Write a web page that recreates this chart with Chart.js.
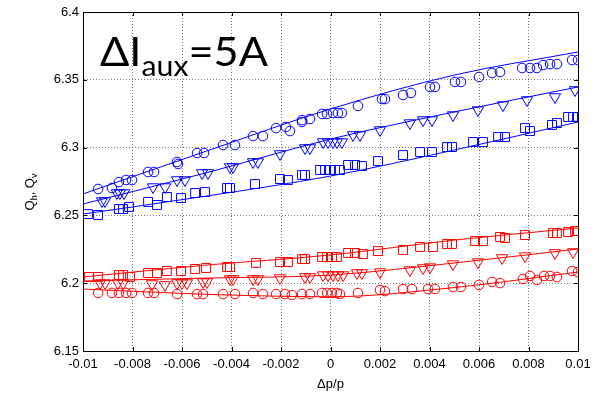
<!DOCTYPE html>
<html>
<head>
<meta charset="utf-8">
<title>Q vs dp/p</title>
<script src="https://cdn.jsdelivr.net/npm/chart.js"></script>
<style>
  html, body { margin: 0; padding: 0; background: #fff; }
  canvas { display: block; }
</style>
</head>
<body>
<canvas id="chart" width="600" height="394"></canvas>
<script>
// tick values / labels
const xTicks = [-0.01, -0.008, -0.006, -0.004, -0.002, 0, 0.002, 0.004, 0.006, 0.008, 0.01];
const xTickLabels = ['-0.01', '-0.008', '-0.006', '-0.004', '-0.002', '0', '0.002', '0.004', '0.006', '0.008', '0.01'];
const yTicks = [6.15, 6.2, 6.25, 6.3, 6.35, 6.4];
const yTickLabels = ['6.15', '6.2', '6.25', '6.3', '6.35', '6.4'];

// blue circles
const blueCircX = [-0.00939, -0.00883, -0.00855, -0.00826, -0.00802, -0.00737, -0.00713, -0.00620, -0.00616, -0.00539, -0.00511, -0.00434, -0.00386, -0.00313, -0.00273, -0.00220, -0.00180, -0.00164, -0.00115, -0.00083, -0.00115, -0.00034, -0.00014, 0.00010, 0.00030, 0.00046, 0.00111, 0.00208, 0.00220, 0.00293, 0.00325, 0.00402, 0.00422, 0.00503, 0.00527, 0.00600, 0.00653, 0.00685, 0.00774, 0.00806, 0.00834, 0.00859, 0.00887, 0.00915, 0.00976, 0.01000];
const blueCircY = [6.2695, 6.2702, 6.2746, 6.2761, 6.2761, 6.2820, 6.2820, 6.2894, 6.2879, 6.2960, 6.2960, 6.3019, 6.3019, 6.3085, 6.3085, 6.3144, 6.3152, 6.3122, 6.3203, 6.3211, 6.3189, 6.3248, 6.3248, 6.3255, 6.3255, 6.3255, 6.3307, 6.3358, 6.3358, 6.3388, 6.3403, 6.3447, 6.3447, 6.3484, 6.3484, 6.3521, 6.3550, 6.3557, 6.3587, 6.3587, 6.3587, 6.3609, 6.3616, 6.3616, 6.3646, 6.3646];

// blue triangles
const blueTriX = [-0.00923, -0.00911, -0.00863, -0.00851, -0.00834, -0.00717, -0.00668, -0.00620, -0.00588, -0.00519, -0.00495, -0.00406, -0.00394, -0.00313, -0.00293, -0.00204, -0.00103, -0.00083, -0.00030, -0.00010, 0.00010, 0.00026, 0.00046, 0.00091, 0.00119, 0.00200, 0.00321, 0.00374, 0.00410, 0.00495, 0.00596, 0.00697, 0.00794, 0.00907, 0.00988];
const blueTriY = [6.2606, 6.2606, 6.2665, 6.2665, 6.2665, 6.2709, 6.2709, 6.2761, 6.2761, 6.2813, 6.2813, 6.2857, 6.2857, 6.2894, 6.2894, 6.2953, 6.2997, 6.2997, 6.3041, 6.3041, 6.3041, 6.3041, 6.3041, 6.3093, 6.3093, 6.3130, 6.3181, 6.3203, 6.3203, 6.3240, 6.3277, 6.3314, 6.3351, 6.3373, 6.3425];

// blue squares
const blueSqX = [-0.00980, -0.00939, -0.00855, -0.00838, -0.00814, -0.00737, -0.00701, -0.00661, -0.00604, -0.00547, -0.00507, -0.00418, -0.00406, -0.00305, -0.00204, -0.00172, -0.00115, -0.00103, -0.00042, -0.00022, -0.00002, 0.00018, 0.00038, 0.00071, 0.00099, 0.00127, 0.00192, 0.00293, 0.00362, 0.00410, 0.00471, 0.00491, 0.00576, 0.00616, 0.00677, 0.00705, 0.00786, 0.00806, 0.00895, 0.00915, 0.00960, 0.00980, 0.01000];
const blueSqY = [6.2510, 6.2503, 6.2547, 6.2547, 6.2562, 6.2599, 6.2577, 6.2636, 6.2628, 6.2665, 6.2672, 6.2702, 6.2702, 6.2731, 6.2768, 6.2761, 6.2798, 6.2798, 6.2835, 6.2835, 6.2835, 6.2835, 6.2835, 6.2872, 6.2872, 6.2864, 6.2901, 6.2945, 6.2967, 6.2967, 6.3004, 6.3004, 6.3041, 6.3041, 6.3078, 6.3078, 6.3144, 6.3122, 6.3167, 6.3181, 6.3226, 6.3226, 6.3226];

// red squares
const redSqX = [-0.00976, -0.00939, -0.00855, -0.00838, -0.00810, -0.00737, -0.00701, -0.00661, -0.00604, -0.00547, -0.00503, -0.00418, -0.00406, -0.00301, -0.00204, -0.00172, -0.00115, -0.00103, -0.00034, -0.00014, 0.00006, 0.00026, 0.00071, 0.00099, 0.00131, 0.00192, 0.00293, 0.00362, 0.00414, 0.00471, 0.00491, 0.00584, 0.00616, 0.00685, 0.00705, 0.00786, 0.00899, 0.00915, 0.00960, 0.00988, 0.01000];
const redSqY = [6.2046, 6.2046, 6.2060, 6.2060, 6.2046, 6.2075, 6.2075, 6.2090, 6.2090, 6.2105, 6.2112, 6.2119, 6.2119, 6.2149, 6.2156, 6.2156, 6.2178, 6.2178, 6.2193, 6.2193, 6.2193, 6.2193, 6.2223, 6.2223, 6.2215, 6.2237, 6.2245, 6.2267, 6.2267, 6.2289, 6.2289, 6.2311, 6.2311, 6.2341, 6.2333, 6.2355, 6.2370, 6.2370, 6.2377, 6.2385, 6.2385];

// red triangles
const redTriX = [-0.00931, -0.00911, -0.00859, -0.00838, -0.00721, -0.00669, -0.00620, -0.00600, -0.00580, -0.00515, -0.00499, -0.00406, -0.00394, -0.00313, -0.00293, -0.00204, -0.00103, -0.00083, -0.00030, -0.00010, 0.00010, 0.00030, 0.00051, 0.00107, 0.00127, 0.00200, 0.00321, 0.00374, 0.00402, 0.00495, 0.00596, 0.00693, 0.00786, 0.00907, 0.00980];
const redTriY = [6.2001, 6.2001, 6.2001, 6.2001, 6.1994, 6.1987, 6.2001, 6.2001, 6.2001, 6.2009, 6.2009, 6.2031, 6.2031, 6.2031, 6.2031, 6.2038, 6.2046, 6.2046, 6.2060, 6.2060, 6.2060, 6.2060, 6.2060, 6.2075, 6.2075, 6.2082, 6.2097, 6.2112, 6.2119, 6.2141, 6.2156, 6.2186, 6.2200, 6.2223, 6.2230];

// red circles
const redCircX = [-0.00939, -0.00883, -0.00855, -0.00826, -0.00802, -0.00737, -0.00713, -0.00620, -0.00539, -0.00515, -0.00434, -0.00386, -0.00313, -0.00273, -0.00220, -0.00184, -0.00156, -0.00115, -0.00083, -0.00034, -0.00014, 0.00006, 0.00026, 0.00038, 0.00111, 0.00200, 0.00220, 0.00293, 0.00329, 0.00394, 0.00422, 0.00495, 0.00527, 0.00600, 0.00653, 0.00685, 0.00778, 0.00806, 0.00834, 0.00863, 0.00887, 0.00915, 0.00976, 0.01000];
const redCircY = [6.1928, 6.1928, 6.1928, 6.1928, 6.1928, 6.1928, 6.1928, 6.1920, 6.1920, 6.1920, 6.1920, 6.1920, 6.1928, 6.1920, 6.1920, 6.1920, 6.1913, 6.1920, 6.1920, 6.1928, 6.1928, 6.1928, 6.1928, 6.1920, 6.1928, 6.1950, 6.1942, 6.1957, 6.1957, 6.1957, 6.1957, 6.1972, 6.1972, 6.1987, 6.2009, 6.2001, 6.2031, 6.2053, 6.2024, 6.2053, 6.2053, 6.2046, 6.2090, 6.2082];

// fitted curves, read at a few x positions
const fitX = [-0.01, -0.005, 0, 0.005, 0.01];
const blueCircFit = [6.2658, 6.2975, 6.3285, 6.3535, 6.3705];
const blueTriFit = [6.2584, 6.2815, 6.3063, 6.3263, 6.3447];
const blueSqFit = [6.2510, 6.2643, 6.2790, 6.2982, 6.3189];
const redSqFit = [6.2046, 6.2134, 6.2208, 6.2318, 6.2407];
const redTriFit = [6.2016, 6.2038, 6.2060, 6.2149, 6.2252];
const redCircFit = [6.1957, 6.1918, 6.1900, 6.1968, 6.2082];

const BLUE = '#0000ff';
const RED = '#ff0000';

const pts = (xs, ys) => xs.map((x, i) => ({ x: x, y: ys[i] }));

function markers(xs, ys, color, style, radius, rotation) {
  return {
    data: pts(xs, ys),
    showLine: false,
    pointStyle: style,
    pointRadius: radius,
    pointRotation: rotation || 0,
    pointBorderColor: color,
    pointBackgroundColor: 'rgba(0,0,0,0)',
    pointBorderWidth: 1,
    pointHoverRadius: radius,
  };
}

function fitLine(ys, color) {
  return {
    data: pts(fitX, ys),
    showLine: true,
    borderColor: color,
    borderWidth: 1,
    pointRadius: 0,
    pointHoverRadius: 0,
    cubicInterpolationMode: 'monotone',
    fill: false,
  };
}

// frame, inward ticks, big annotation and y title
const extrasPlugin = {
  id: 'extras',
  afterDraw(chart) {
    const { ctx, chartArea: a, scales } = chart;
    ctx.save();
    ctx.strokeStyle = '#000';
    ctx.lineWidth = 1;
    ctx.beginPath();
    ctx.moveTo(Math.round(a.left) + 0.5, Math.round(a.top) + 0.5);
    ctx.lineTo(Math.round(a.right) + 0.5, Math.round(a.top) + 0.5);
    ctx.lineTo(Math.round(a.right) + 0.5, Math.round(a.bottom) + 0.5);
    ctx.stroke();

    ctx.beginPath();
    xTicks.forEach(v => {
      const px = Math.round(scales.x.getPixelForValue(v)) + 0.5;
      ctx.moveTo(px, a.bottom); ctx.lineTo(px, a.bottom - 4);
      ctx.moveTo(px, a.top); ctx.lineTo(px, a.top + 4);
    });
    yTicks.forEach(v => {
      const py = Math.round(scales.y.getPixelForValue(v)) + 0.5;
      ctx.moveTo(a.left, py); ctx.lineTo(a.left + 4, py);
      ctx.moveTo(a.right, py); ctx.lineTo(a.right - 4, py);
    });
    ctx.stroke();

    // ΔI_aux=5A, stretched a little to the width of the original
    ctx.fillStyle = '#000';
    ctx.textBaseline = 'alphabetic';
    const ann = [['\u0394I', 40, 0], ['aux', 28, 10], ['=5A', 40, 0]];
    let annW = 0;
    ann.forEach(p => { ctx.font = p[1] + 'px Lato'; annW += ctx.measureText(p[0]).width; });
    ctx.save();
    ctx.translate(100, 66);
    ctx.scale(168 / annW, 1);
    let x = 0;
    ann.forEach(p => {
      ctx.font = p[1] + 'px Lato';
      ctx.fillText(p[0], x, p[2]);
      x += ctx.measureText(p[0]).width;
    });
    ctx.restore();

    // y axis title Q_h, Q_v
    ctx.translate(34, 192);
    ctx.rotate(-Math.PI / 2);
    const parts = [['Q', 13, 0], ['h', 9, 3], [', Q', 13, 0], ['v', 9, 3]];
    let w = 0;
    parts.forEach(p => { ctx.font = p[1] + 'px "Liberation Sans", Arial'; w += ctx.measureText(p[0]).width; });
    let tx = -w / 2;
    parts.forEach(p => {
      ctx.font = p[1] + 'px "Liberation Sans", Arial';
      ctx.fillText(p[0], tx, p[2]);
      tx += ctx.measureText(p[0]).width;
    });
    ctx.restore();
  }
};

const tickFont = { family: '"Liberation Sans", Arial, sans-serif', size: 13 };

new Chart(document.getElementById('chart').getContext('2d'), {
  type: 'scatter',
  data: {
    datasets: [
      markers(blueCircX, blueCircY, BLUE, 'circle', 4.8),
      markers(blueTriX, blueTriY, BLUE, 'triangle', 6.5, 180),
      markers(blueSqX, blueSqY, BLUE, 'rect', 6.3),
      markers(redSqX, redSqY, RED, 'rect', 6.3),
      markers(redTriX, redTriY, RED, 'triangle', 6.5, 180),
      markers(redCircX, redCircY, RED, 'circle', 4.8),
      fitLine(blueCircFit, BLUE),
      fitLine(blueTriFit, BLUE),
      fitLine(blueSqFit, BLUE),
      fitLine(redSqFit, RED),
      fitLine(redTriFit, RED),
      fitLine(redCircFit, RED),
    ],
  },
  options: {
    responsive: false,
    animation: false,
    devicePixelRatio: 1,
    layout: { padding: { top: 12, right: 22, left: 0, bottom: 0 } },
    plugins: {
      legend: { display: false },
      tooltip: { enabled: false },
    },
    scales: {
      x: {
        type: 'linear',
        min: -0.01,
        max: 0.01,
        afterBuildTicks: scale => { scale.ticks = xTicks.map(v => ({ value: v })); },
        afterFit: scale => { scale.height = 43; },
        ticks: {
          color: '#000',
          font: tickFont,
          padding: 6,
          maxRotation: 0,
          autoSkip: false,
          callback: (v, i) => xTickLabels[i],
        },
        grid: { color: '#7a7a7a', drawTicks: false },
        border: { display: true, color: '#000', width: 1, dash: [1, 2] },
        title: {
          display: true,
          text: '\u0394p/p',
          color: '#000',
          font: tickFont,
          padding: { top: 0, bottom: 2 },
        },
      },
      y: {
        type: 'linear',
        min: 6.15,
        max: 6.4,
        afterBuildTicks: scale => { scale.ticks = yTicks.map(v => ({ value: v })); },
        afterFit: scale => { scale.width = 83; },
        ticks: {
          color: '#000',
          font: tickFont,
          padding: 4,
          autoSkip: false,
          callback: (v, i) => yTickLabels[i],
        },
        grid: { color: '#7a7a7a', drawTicks: false },
        border: { display: true, color: '#000', width: 1, dash: [1, 2] },
      },
    },
  },
  plugins: [extrasPlugin],
});
</script>
</body>
</html>
